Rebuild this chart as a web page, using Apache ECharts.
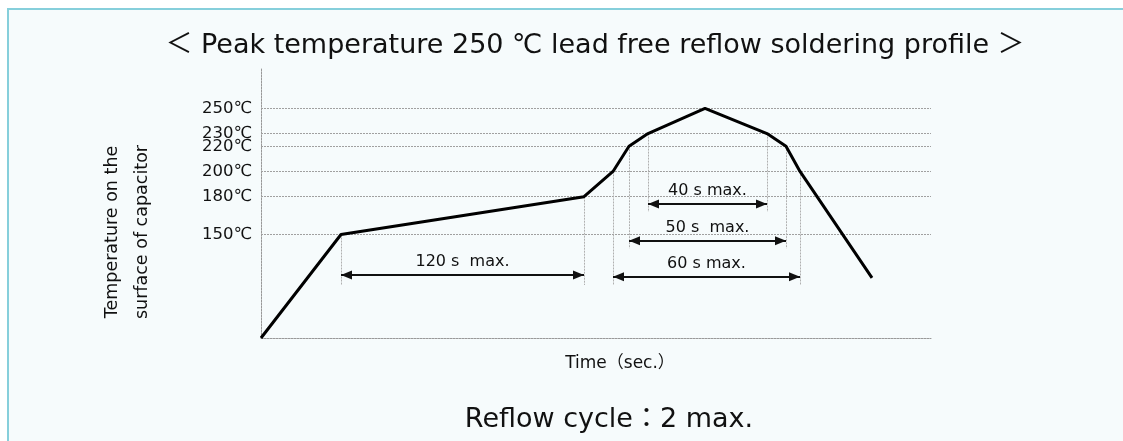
<!DOCTYPE html>
<html lang="en">
<head>
	<meta charset="UTF-8">
	<title>Reflow soldering profile</title>
	<script src="https://cdn.jsdelivr.net/npm/echarts@6/dist/echarts.min.js"></script>
	<style>
		html, body { margin: 0; padding: 0; background: #fff; overflow: hidden; width: 1123px; height: 441px; }
		#panel {
			position: absolute; left: 7px; top: 8px; width: 1130px; height: 450px;
			border-left: 2px solid #86cfdb; border-top: 2px solid #86cfdb;
			background: #f6fbfc;
		}
		#chartBox { position: absolute; left: 0; top: 0; width: 1123px; height: 441px; }
	</style>
</head>
<body>
<div id="panel"></div>
<div id="chartBox"></div>
<script>
    // profile curve (time in relative units, temperature in ℃)
    var curveTime = [0, 40, 161.5, 176, 184, 193.5, 222, 253, 262.5, 269.5, 305.5];
    var curveTemp = [68, 150, 180, 200, 220, 230, 250, 230, 220, 200, 115.6];

    // temperature levels shown on the y axis
    var tempTicks = [150, 180, 200, 220, 230, 250];

    // vertical guide lines: time, top temp, bottom temp
    var guideTime = [40, 161.5, 176, 184, 193.5, 253, 262.5, 269.5];
    var guideTop = [150, 180, 200, 220, 230, 230, 220, 200];
    var guideBottom = [110, 110, 110, 139, 168, 168, 139, 110];

    // duration arrows
    var spanFrom = [40, 176, 184, 193.5];
    var spanTo = [161.5, 269.5, 262.5, 253];
    var spanTemp = [118, 116.6, 145, 174.2];
    var spanLabel = ['120 s  max.', '60 s max.', '50 s  max.', '40 s max.'];

    var font = 'DejaVu Sans, "Noto Sans CJK JP", sans-serif';
    var myChart = echarts.init(document.getElementById('chartBox'));

    var curveData = curveTime.map(function (t, i) { return [t, curveTemp[i]]; });
    var gridLines = tempTicks.map(function (v) { return { yAxis: v }; });
    var guides = guideTime.map(function (t, i) {
        return [{ coord: [t, guideTop[i]] }, { coord: [t, guideBottom[i]] }];
    });
    var arrows = spanFrom.map(function (t, i) {
        return [{ coord: [t, spanTemp[i]], label: { formatter: spanLabel[i] } }, { coord: [spanTo[i], spanTemp[i]] }];
    });

    var option = {
        animation: false,
        backgroundColor: 'transparent',
        textStyle: { fontFamily: font },
        grid: { left: 261, right: 192, top: 68, bottom: 103 },
        xAxis: {
            type: 'value', min: 0, max: 335,
            axisLine: { show: true, lineStyle: { color: '#999', type: [2, 1], width: 1 } },
            axisTick: { show: false }, axisLabel: { show: false }, splitLine: { show: false }
        },
        yAxis: {
            type: 'value', min: 68, max: 282,
            axisLine: { show: true, lineStyle: { color: '#999', type: [2, 1], width: 1 } },
            axisTick: { show: false },
            axisLabel: {
                customValues: tempTicks,
                formatter: function (v) { return v + '℃'; },
                color: '#111', fontSize: 16.5, margin: 9, fontFamily: font
            },
            splitLine: { show: false }
        },
        series: [
            {
                type: 'line', data: curveData, showSymbol: false, silent: true,
                lineStyle: { color: '#000', width: 3 },
                z: 5,
                markLine: {
                    silent: true, symbol: 'none', label: { show: false },
                    lineStyle: { color: '#a0a0a0', type: [2, 1], width: 1 },
                    data: gridLines
                }
            },
            {
                type: 'line', data: [], silent: true,
                markLine: {
                    silent: true, symbol: 'none', label: { show: false },
                    lineStyle: { color: '#b0b0b0', type: [2, 1], width: 1 },
                    data: guides
                }
            },
            {
                type: 'line', data: [], silent: true,
                markLine: {
                    silent: true, symbol: ['triangle', 'triangle'], symbolSize: [9, 11],
                    symbolOffset: [[0, 5.5], [0, 5.5]],
                    lineStyle: { color: '#111', type: 'solid', width: 2 },
                    label: {
                        show: true, position: 'insideMiddleTop', distance: 5,
                        color: '#111', fontSize: 16, fontFamily: font
                    },
                    data: arrows
                }
            }
        ],
        graphic: [
            {
                type: 'text', x: 595, y: 46,
                style: {
                    text: '＜ Peak temperature 250 ℃ lead free reflow soldering profile ＞',
                    font: '27px ' + font, fill: '#111', align: 'center', verticalAlign: 'middle'
                }
            },
            {
                type: 'text', x: 112, y: 232, rotation: Math.PI / 2,
                style: {
                    text: 'Temperature on the', font: '17.5px ' + font, fill: '#111',
                    align: 'center', verticalAlign: 'middle'
                }
            },
            {
                type: 'text', x: 142, y: 232, rotation: Math.PI / 2,
                style: {
                    text: 'surface of capacitor', font: '17.5px ' + font, fill: '#111',
                    align: 'center', verticalAlign: 'middle'
                }
            },
            {
                type: 'text', x: 620, y: 364,
                style: {
                    text: 'Time（sec.）', font: '17px ' + font, fill: '#111',
                    align: 'center', verticalAlign: 'middle'
                }
            },
            {
                type: 'text', x: 609, y: 420,
                style: {
                    text: 'Reflow cycle：2 max.', font: '27px ' + font, fill: '#111',
                    align: 'center', verticalAlign: 'middle'
                }
            }
        ]
    };
    myChart.setOption(option);
</script>
</body>
</html>
